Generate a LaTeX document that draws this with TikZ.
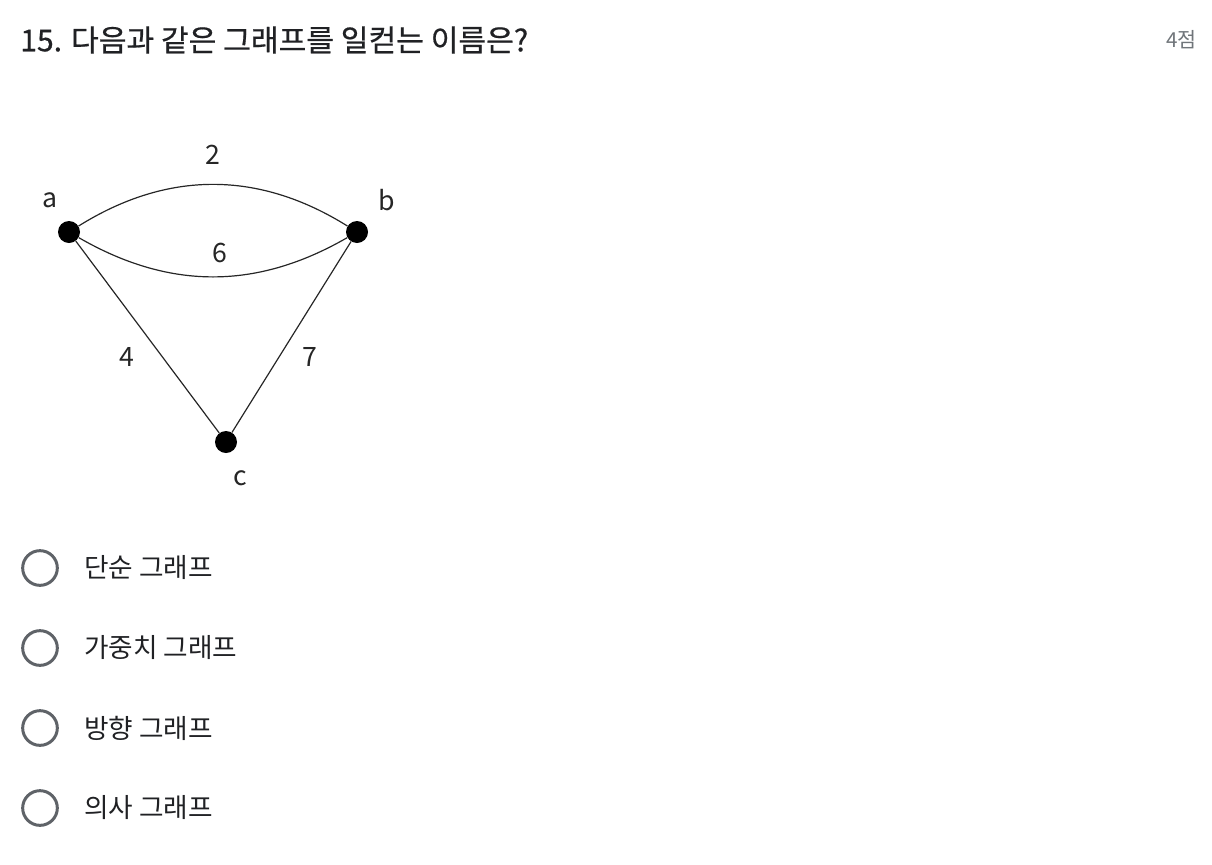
\documentclass[tikz,border=0pt]{standalone}
\usepackage{fontspec}
\setmainfont{Noto Sans CJK KR}
\definecolor{radiogray}{HTML}{5F6368}
\definecolor{pointgray}{HTML}{70757A}
\definecolor{titleblack}{HTML}{202124}

\begin{document}
\begin{tikzpicture}[x=0.75pt,y=-0.75pt,
    main_node/.style={circle,fill=black,inner sep=0pt,minimum size=16.5pt},
    edge_label/.style={font=\fontsize{20}{23}\selectfont,text=black!85},
    radio/.style={circle,draw=radiogray,line width=2.25pt,minimum size=26pt,inner sep=0pt},
    option/.style={anchor=west,inner sep=0pt,font=\fontsize{20}{23}\selectfont,text=titleblack}]
    \useasboundingbox (0,0) rectangle (1212,864);

    % question
    \node[anchor=west,inner sep=0pt,font=\fontsize{22.6}{27}\selectfont\addfontfeatures{FakeBold=0.6},text=titleblack] (q) at (20,40) {15. 다음과 같은 그래프를 일컫는 이름은?};
    \node[anchor=east,inner sep=0pt,font=\fontsize{15.5}{18}\selectfont,text=pointgray] (pts) at (1197,40) {4점};

    % graph
    \node[main_node] (a) at (69,232) {};
    \node[main_node] (b) at (357,232) {};
    \node[main_node] (c) at (226,442) {};

    \draw[line width=0.9pt,black!85] (a) to[bend left=32] (b);
    \draw[line width=0.9pt,black!85] (a) to[bend right=30] (b);
    \draw[line width=0.9pt,black!85] (a) -- (c) -- (b);

    \node[edge_label] (la) at (50,200) {a};
    \node[edge_label] (lb) at (387,200) {b};
    \node[edge_label] (lc) at (240,478) {c};
    \node[edge_label] (w2) at (213,155) {2};
    \node[edge_label] (w6) at (220,253) {6};
    \node[edge_label] (w4) at (127,357) {4};
    \node[edge_label] (w7) at (310,357) {7};

    % choices
    \node[radio] (r1) at (40,568) {};
    \node[radio] (r2) at (40,648) {};
    \node[radio] (r3) at (40,728) {};
    \node[radio] (r4) at (40,808) {};
    \node[option] (o1) at (84,568) {단순 그래프};
    \node[option] (o2) at (84,648) {가중치 그래프};
    \node[option] (o3) at (84,728) {방향 그래프};
    \node[option] (o4) at (84,808) {의사 그래프};
\end{tikzpicture}
\end{document}
